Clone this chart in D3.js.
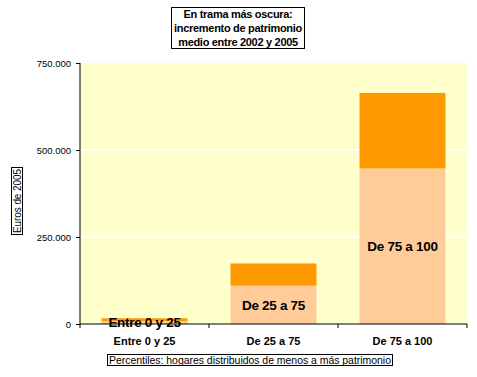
<!DOCTYPE html>
<html><head><meta charset="utf-8">
<script src="https://cdn.jsdelivr.net/npm/d3@7"></script>
<style>body{margin:0;background:#fff}svg{display:block;font-family:"Liberation Sans",Arial,sans-serif}</style>
</head><body>
<script>
const categories = ["Entre 0 y 25", "De 25 a 75", "De 75 a 100"];
const barLabels = ["Entre 0 y 25", "De 25 a 75", "De 75 a 100"];
const base2002 = [8500, 110000, 447000];
const increment = [8000, 64000, 217000];
const yTicks = [0, 250000, 500000, 750000];
const titleLines = ["En trama más oscura:", "incremento de patrimonio", "medio entre 2002 y 2005"];
const yTitle = "Euros de 2005";
const xTitle = "Percentiles: hogares distribuidos de menos a más patrimonio";

const W = 477, H = 377;
const svg = d3.select("body").append("svg").attr("width", W).attr("height", H);

const x = d3.scaleBand().domain(categories).range([80, 467]).paddingInner(1/3).paddingOuter(1/6);
const y = d3.scaleLinear().domain([0, 750000]).range([324, 63]);

svg.append("rect").attr("x", 80).attr("y", 63).attr("width", 387).attr("height", 261).attr("fill", "#FFFFCC");

svg.append("g").selectAll("line").data(yTicks.filter(d => d > 0 && d < 750000)).join("line")
  .attr("x1", 80).attr("x2", 467).attr("y1", d => y(d)).attr("y2", d => y(d))
  .attr("stroke", "#fff").attr("stroke-width", 2);

const g = svg.append("g");
g.selectAll("rect.base").data(categories).join("rect").attr("class", "base")
  .attr("x", d => x(d)).attr("width", x.bandwidth())
  .attr("y", (d, i) => y(base2002[i])).attr("height", (d, i) => y(0) - y(base2002[i]))
  .attr("fill", "#FFCC99");
g.selectAll("rect.inc").data(categories).join("rect").attr("class", "inc")
  .attr("x", d => x(d)).attr("width", x.bandwidth())
  .attr("y", (d, i) => y(base2002[i] + increment[i])).attr("height", (d, i) => y(base2002[i]) - y(base2002[i] + increment[i]))
  .attr("fill", "#FF9900");

g.selectAll("text.bl").data(categories).join("text").attr("class", "bl")
  .attr("x", d => x(d) + x.bandwidth() / 2)
  .attr("y", (d, i) => (y(0) + y(base2002[i])) / 2)
  .attr("dy", "0.36em").attr("text-anchor", "middle")
  .attr("font-size", 13.5).attr("font-weight", "bold").attr("letter-spacing", "-0.3px").attr("fill", "#000")
  .text((d, i) => barLabels[i]);

// y axis
const ya = d3.axisLeft(y).tickValues(yTicks).tickSize(4).tickPadding(5)
  .tickFormat(d => d3.format(",")(d).replace(/,/g, "."));
svg.append("g").attr("transform", "translate(80,0)").call(ya)
  .call(s => s.selectAll("text").attr("font-size", 9.5).attr("font-family", "Liberation Sans, Arial, sans-serif"))
  .call(s => s.select(".domain").attr("d", "M0,63V324"));

// x axis
const xa = svg.append("g").attr("transform", "translate(0,324)");
xa.append("line").attr("x1", 80).attr("x2", 467).attr("stroke", "#000");
const bounds = [80].concat(categories.map(c => x(c) + x.bandwidth() + x.step() * x.paddingInner() / 2));
xa.selectAll("line.t").data(bounds).join("line").attr("class", "t")
  .attr("x1", d => d).attr("x2", d => d).attr("y1", 0).attr("y2", 4).attr("stroke", "#000");
xa.selectAll("text").data(categories).join("text")
  .attr("x", d => x(d) + x.bandwidth() / 2).attr("y", 17).attr("dy", "0.36em")
  .attr("text-anchor", "middle").attr("font-size", 11).attr("font-weight", "bold").text(d => d);

// title box
svg.append("rect").attr("x", 171.5).attr("y", 7.5).attr("width", 133).attr("height", 41)
  .attr("fill", "#fff").attr("stroke", "#000");
svg.append("g").selectAll("text").data(titleLines).join("text")
  .attr("x", 238).attr("y", (d, i) => 14 + i * 14).attr("dy", "0.36em")
  .attr("text-anchor", "middle").attr("font-size", 11).attr("font-weight", "bold")
  .attr("letter-spacing", "-0.3px").text(d => d);

// y title
const yt = svg.append("g").attr("transform", "translate(17,201) rotate(-90)");
yt.append("rect").attr("x", -33.5).attr("y", -5.5).attr("width", 67).attr("height", 11)
  .attr("fill", "#fff").attr("stroke", "#000");
yt.append("text").attr("text-anchor", "middle").attr("dy", "0.36em").attr("font-size", 10)
  .attr("textLength", 64).text(yTitle);

// x title
svg.append("rect").attr("x", 107.5).attr("y", 354.5).attr("width", 285).attr("height", 11)
  .attr("fill", "#fff").attr("stroke", "#000");
svg.append("text").attr("x", 250).attr("y", 360).attr("dy", "0.36em").attr("text-anchor", "middle")
  .attr("font-size", 10.5).attr("textLength", 282).text(xTitle);
</script>
</body></html>
